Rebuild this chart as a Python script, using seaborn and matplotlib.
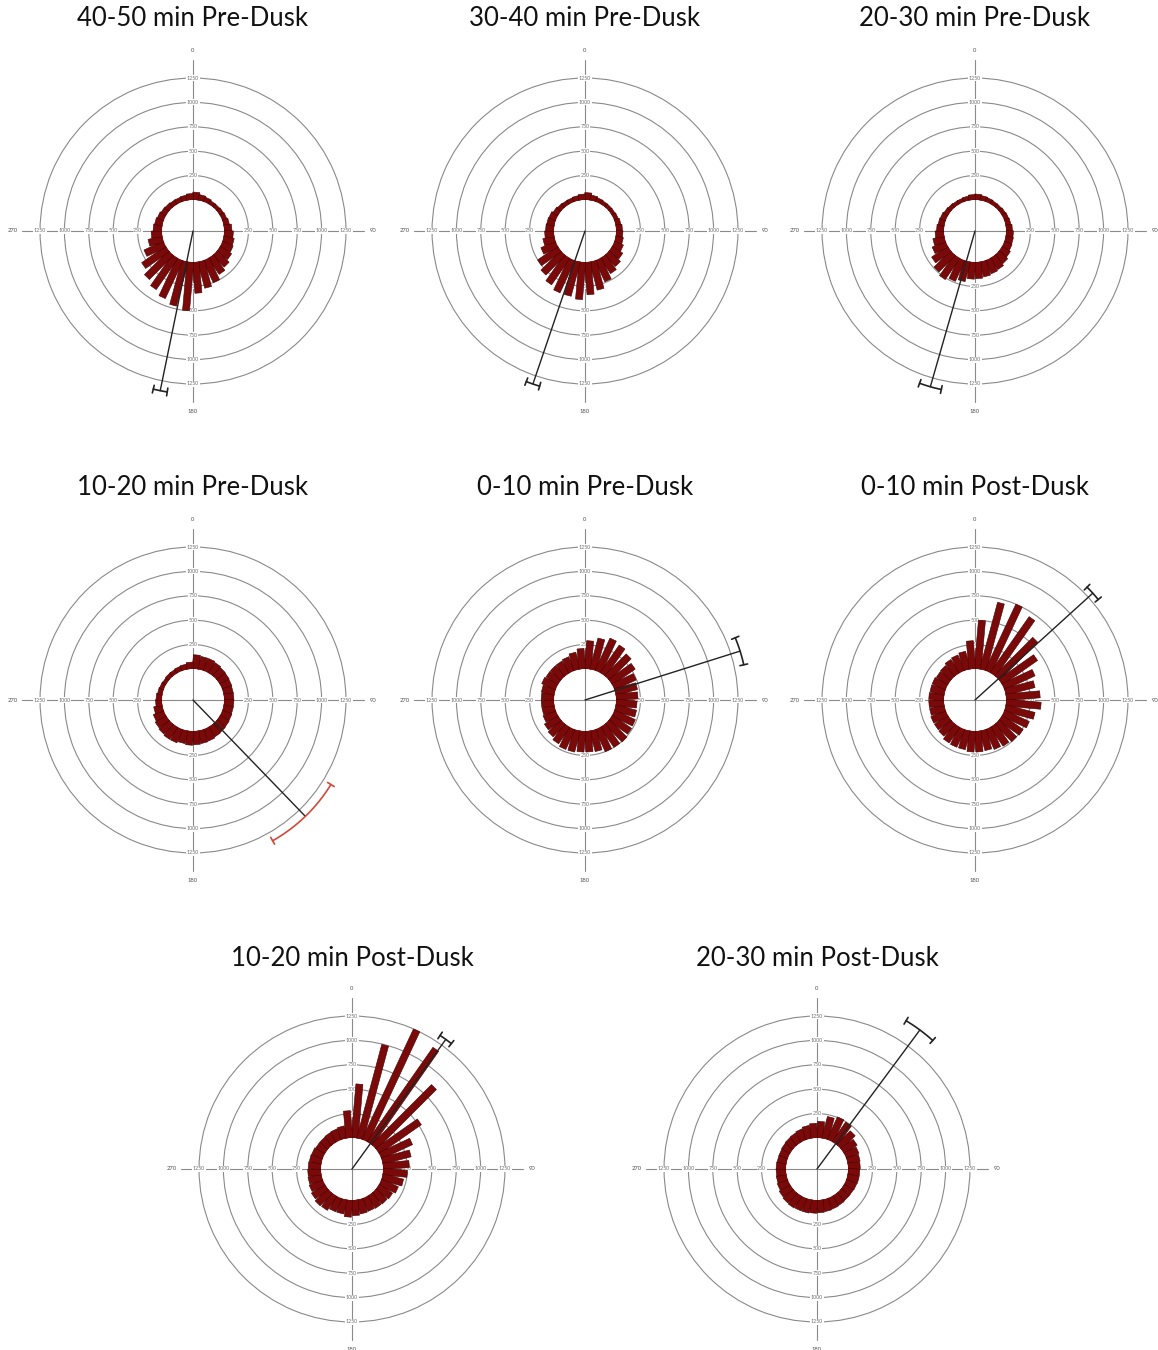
import numpy as np
import pandas as pd
import matplotlib
matplotlib.use("Agg")
import matplotlib.pyplot as plt
from matplotlib.patches import Polygon
import seaborn as sns

sns.set_theme(style="white")
plt.rcParams["font.family"] = ["Lato", "DejaVu Sans"]

# 36 bins of 10 degrees, clockwise from north
bin_deg = np.arange(5, 360, 10)

titles = [
    "40-50 min Pre-Dusk", "30-40 min Pre-Dusk", "20-30 min Pre-Dusk",
    "10-20 min Pre-Dusk", "0-10 min Pre-Dusk", "0-10 min Post-Dusk",
    "10-20 min Post-Dusk", "20-30 min Post-Dusk",
]

counts_40_50_pre = [80, 60, 50, 40, 40, 45, 50, 60, 80, 95, 110, 120, 140, 170, 200, 250, 280, 320,
                    500, 470, 430, 390, 350, 300, 220, 150, 110, 90, 80, 70, 60, 55, 50, 50, 55, 65]
counts_30_40_pre = [75, 55, 45, 40, 40, 40, 45, 55, 65, 70, 80, 100, 130, 160, 190, 240, 300, 335,
                    385, 365, 365, 330, 285, 250, 165, 120, 95, 85, 80, 75, 60, 50, 45, 45, 50, 60]
counts_20_30_pre = [60, 50, 45, 40, 40, 45, 50, 55, 65, 75, 80, 85, 100, 120, 140, 150, 160, 170,
                    175, 210, 235, 265, 240, 200, 150, 120, 90, 75, 65, 60, 50, 45, 40, 40, 45, 55]
counts_10_20_pre = [145, 135, 135, 125, 115, 110, 105, 100, 100, 100, 100, 105, 110, 115, 120, 130, 135, 140,
                    145, 135, 150, 150, 140, 130, 115, 90, 65, 60, 50, 45, 40, 45, 45, 50, 55, 70]
counts_0_10_pre = [290, 330, 365, 345, 315, 285, 245, 230, 225, 215, 220, 235, 240, 255, 250, 250, 220, 215,
                   215, 225, 225, 205, 180, 165, 140, 130, 130, 130, 135, 155, 145, 145, 145, 155, 180, 210]
counts_0_10_post = [500, 710, 750, 700, 555, 440, 345, 310, 350, 360, 310, 280, 260, 250, 235, 225, 210, 215,
                    215, 200, 200, 195, 170, 165, 165, 155, 155, 155, 150, 150, 140, 145, 165, 175, 190, 290]
counts_10_20_post = [555, 995, 1250, 1180, 870, 525, 350, 300, 270, 250, 220, 190, 165, 155, 150, 145, 150, 160,
                     175, 150, 150, 175, 180, 165, 150, 140, 135, 130, 125, 120, 110, 110, 115, 120, 130, 280]
counts_20_30_post = [170, 230, 255, 245, 200, 160, 140, 130, 125, 120, 120, 115, 110, 110, 115, 120, 125, 130,
                     135, 140, 140, 145, 140, 130, 115, 105, 100, 100, 95, 95, 100, 105, 110, 120, 135, 150]

all_counts = [counts_40_50_pre, counts_30_40_pre, counts_20_30_pre, counts_10_20_pre,
              counts_0_10_pre, counts_0_10_post, counts_10_20_post, counts_20_30_post]

# mean vector: direction (deg), drawn length, 95% CI half width (deg)
mean_dir = [191.6, 198.8, 196.0, 136.0, 72.5, 47.8, 35.9, 36.5]
mean_len = [1353, 1339, 1343, 1340, 1349, 1312, 1322, 1455]
ci_half = [2.5, 2.5, 4.0, 14.5, 5.0, 3.0, 2.5, 5.5]
ci_color = ["#222222", "#222222", "#222222", "#d04a3a", "#222222", "#222222", "#222222", "#222222"]

ring_ticks = [250, 500, 750, 1000, 1250]
compass = [0, 90, 180, 270]

# panel centres and title rows (pixels)
centres = [(193, 231), (585, 231), (975, 231), (193, 700), (585, 700), (975, 700), (352, 1169), (817, 1169)]
title_y = [18, 18, 18, 487, 487, 487, 958, 958]

W, H = 1158, 1350
HOLE = 318      # radius of the empty centre, in count units
RMAX = 1435
HALF = 171      # axes radius in pixels
BAR_HW = 3.5 * (HOLE + RMAX) / HALF   # half bar width (count units), constant like the original

fig = plt.figure(figsize=(W / 100, H / 100), dpi=100)
grid_col = "#8a8a8a"
bar_fill = "#7a0a0a"
bar_edge = "#420000"


def squared_bars(ax):
    # turn seaborn's wedge-shaped polar bars into straight-sided bars
    for p in list(ax.patches):
        tc = p.get_x() + p.get_width() / 2
        h = p.get_height()
        p.remove()
        s0 = np.sqrt(HOLE ** 2 - BAR_HW ** 2)
        s1 = HOLE + h
        pts = []
        for s, sign in [(s0, -1), (s1, -1), (s1, 1), (s0, 1)]:
            rho = np.hypot(s, BAR_HW)
            pts.append((tc + sign * np.arctan2(BAR_HW, s), rho - HOLE))
        ax.add_patch(Polygon(pts, closed=True, fc=bar_fill, ec=bar_edge, lw=0.4, zorder=3))


for i, (cx, cy) in enumerate(centres):
    ax = fig.add_axes([(cx - HALF) / W, 1 - (cy + HALF) / H, 2 * HALF / W, 2 * HALF / H],
                      projection="polar")
    ax.set_theta_zero_location("N")
    ax.set_theta_direction(-1)
    ax.set_rorigin(-HOLE)
    ax.set_ylim(0, RMAX)

    df = pd.DataFrame({"theta": np.deg2rad(bin_deg), "count": all_counts[i]})
    sns.barplot(data=df, x="theta", y="count", native_scale=True, orient="x", width=0.7,
                color=bar_fill, saturation=1, errorbar=None, ax=ax)
    squared_bars(ax)

    ax.set_xlabel("")
    ax.set_ylabel("")
    ax.set_xticks([])
    ax.set_yticks(ring_ticks)
    ax.set_yticklabels([])
    ax.yaxis.grid(True, color=grid_col, lw=0.8)
    ax.xaxis.grid(False)
    ax.spines["polar"].set_visible(False)
    ax.spines["inner"].set_color("none")
    ax.set_ylim(0, RMAX)

    # cross lines through the centre
    for a in compass:
        t = np.deg2rad(a)
        ax.plot([t, t], [-HOLE, RMAX], color=grid_col, lw=0.8, clip_on=False, zorder=2)
        for v in ring_ticks:
            ax.text(t, v, str(v), fontsize=3.8, color="#707070", ha="center", va="center",
                    clip_on=False, zorder=2.5,
                    bbox=dict(boxstyle="square,pad=0.1", fc="white", ec="none"))
        ax.text(t, RMAX + 95, str(a), fontsize=4.2, color="#505050", ha="center", va="center",
                clip_on=False)

    # mean vector with confidence arc
    mu = np.deg2rad(mean_dir[i])
    L = mean_len[i]
    ax.plot([mu, mu], [-HOLE, L], color="#222222", lw=1.0, clip_on=False, zorder=4)
    half = np.deg2rad(ci_half[i])
    arc = np.linspace(mu - half, mu + half, 40)
    col = ci_color[i]
    ax.plot(arc, np.full_like(arc, L), color=col, lw=1.2, clip_on=False, zorder=4)
    for end in (mu - half, mu + half):
        ax.plot([end, end], [L - 40, L + 40], color=col, lw=1.2, clip_on=False, zorder=4)

    fig.text(cx / W, 1 - title_y[i] / H, titles[i], fontsize=18.5, ha="center", va="center",
             color="#111111")

fig.savefig("out.png", dpi=100)
